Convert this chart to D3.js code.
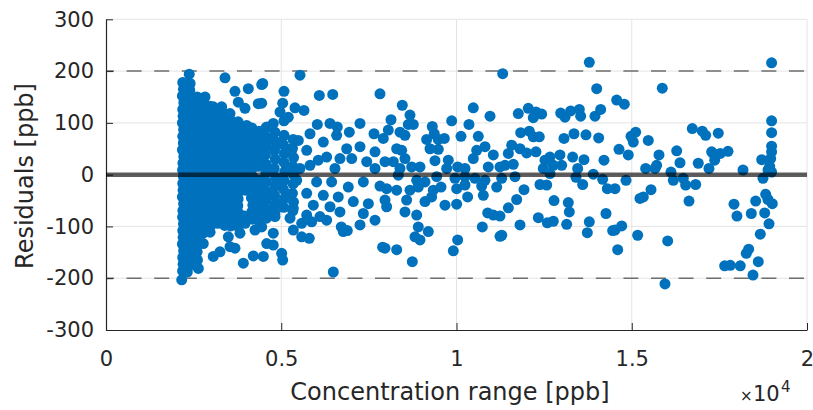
<!DOCTYPE html>
<html>
<head>
<meta charset="utf-8">
<script src="https://cdn.jsdelivr.net/npm/d3@7"></script>
<style>
  body { margin: 0; background: #fff; }
  text { font-family: "DejaVu Sans", sans-serif; fill: #262626; }
</style>
</head>
<body>
<svg id="chart" width="813" height="410"></svg>
<script>
// residuals [ppb] against concentration [ppb]
var conc2k = [
  [2190,178],[2210,165],[2180,152],[2220,139],[2190,126],[2200,113],[2180,100],[2215,87],[2190,74],[2205,61],
  [2180,48],[2220,35],[2195,22],[2185,9],[2210,-4],[2190,-17],[2200,-30],[2180,-43],[2215,-56],[2195,-69],
  [2185,-82],[2210,-95],[2190,-108],[2200,-121],[2180,-134],[2215,-147],[2190,-160],[2200,-173],[2185,-186],[2160,-203],
  [2375,194],[2400,176],[2390,163],[2410,150],[2380,137],[2420,124],[2395,111],[2405,98],[2380,85],[2415,72],
  [2390,59],[2400,46],[2385,33],[2420,20],[2395,7],[2380,-6],[2410,-19],[2390,-32],[2400,-45],[2420,-58],
  [2385,-71],[2400,-84],[2410,-97],[2380,-110],[2400,-123],[2420,-136],[2390,-149],[2300,-152],[2400,-162],[2380,-175],[2320,-188],
  [2600,150],[2590,137],[2620,124],[2580,111],[2610,98],[2600,85],[2630,72],[2590,59],[2610,46],[2580,33],
  [2620,20],[2600,7],[2590,-6],[2630,-19],[2600,-32],[2580,-45],[2610,-58],[2600,-71],[2620,-84],[2590,-97],
  [2610,-110],[2580,-123],[2490,-126],[2620,-136],[2600,-149],[2445,-158],[2610,-165],[2634,-181],
  [2825,150],[2770,143],[2780,130],[2760,116],[2790,103],[2770,89],[2760,76],[2790,62],[2770,49],[2780,35],
  [2760,22],[2790,8],[2770,-5],[2780,-19],[2760,-32],[2790,-46],[2770,-59],[2780,-73],[2760,-86],[2790,-100],
  [2770,-113],[2776,-133],
  [2970,132],[2960,118],[2990,105],[2970,91],[2950,78],[2980,64],[2960,51],[2990,37],[2970,24],[2950,10],
  [2980,-3],[2960,-17],[2990,-30],[2970,-44],[2950,-57],[2980,-71],[2960,-84],[2990,-98],[2970,-111]
];

var conc3k = [
  [3061,131],[3170,122],[3150,108],[3190,95],[3160,81],[3180,68],[3150,54],[3190,41],[3170,27],[3150,14],
  [3180,0],[3160,-13],[3190,-27],[3170,-40],[3150,-54],[3180,-67],[3160,-81],[3190,-94],
  [3300,131],[3370,118],[3350,104],[3390,91],[3360,77],[3380,64],[3350,50],[3390,37],[3370,23],[3350,10],
  [3380,-4],[3360,-17],[3390,-31],[3370,-44],[3350,-58],[3380,-71],[3360,-85],[3390,-98],
  [3538,118],[3570,104],[3550,91],[3590,77],[3560,64],[3580,50],[3550,37],[3590,23],[3570,10],[3550,-4],
  [3580,-17],[3560,-31],[3590,-44],[3570,-58],[3550,-71],[3580,-85],[3560,-99],
  [3775,140],[3770,102],[3790,88],[3760,75],[3780,61],[3750,48],[3790,34],[3770,21],[3760,7],[3780,-6],
  [3750,-20],[3790,-33],[3770,-47],[3760,-60],[3780,-74],[3750,-87],[3770,-100],
  [3395,187],[3680,161],[3061,-158],[3252,-149],[3538,-139],[3680,-142],[3490,-120],[3823,-113]
];

var conc4k = [
  [3966,128],[3960,92],[3980,78],[3950,65],[3990,51],[3960,38],[3970,24],[3950,11],[3990,-3],[3960,-16],
  [3980,-30],[3950,-80],[3970,-94],
  [4165,90],[4180,76],[4150,63],[4190,49],[4160,36],[4170,22],[4150,9],[4190,-5],[4160,-18],[4180,-32],
  [4150,-45],[4190,-59],[4160,-72],[4180,-86],
  [4345,137],[4370,84],[4350,70],[4380,57],[4360,43],[4390,30],[4350,16],[4370,-25],[4390,-38],[4350,-52],
  [4380,-65],[4360,-79],[4390,-92],
  [4060,166],[4442,174],[4014,95],[3918,-171],[4203,-157],[4251,-107],
  [4565,90],[4560,72],[4580,55],[4550,38],[4570,20],[4560,3],[4580,-14],[4550,-32],[4570,-49],[4560,-66],[4580,-84],
  [4820,82],[4840,64],[4810,47],[4830,30],[4800,12],[4840,-5],[4820,-22],[4810,-40],[4830,-57],[4820,-74],
  [5080,76],[5060,58],[5090,41],[5070,24],[5100,6],[5080,-11],[5060,-28],[5090,-46],[5070,-63],
  [5340,68],[5320,51],[5350,33],[5330,16],[5360,-1],[5340,-18],[5320,-36],[5350,-53],[5330,-70]
];

var conc5to8k = [
  [5535,192],[4471,176],[5078,161],[6086,153],[6468,155],[7817,156],[4442,138],[5041,138],[5392,129],[5649,124],
  [4964,121],[5201,111],[5078,104],[6028,97],[6391,99],[6599,92],[7247,99],[6942,82],[7646,79],[7911,70],
  [6580,76],[5820,79],[6200,63],[4585,92],[4773,99],[4394,76],[4679,70],[5487,66],[4964,60],[5298,47],
  [5726,47],[6867,50],[7247,54],[7675,44],[4488,41],[6295,34],[6675,31],[6057,28],[7010,31],[7438,25],
  [5155,16],[5535,12],[5820,18],[6533,12],[7675,12],[4679,9],[4394,-11],[4964,-20],[5441,-11],[6009,-14],
  [6437,-14],[6913,-24],[7342,-14],[7817,-22],[4585,-33],[5250,-40],[5726,-36],[6200,-40],[6627,-43],[7056,-52],
  [7485,-56],[4870,-56],[5915,-59],[6391,-62],[5344,-65],[4679,-68],[4822,-81],[5250,-84],[5726,-78],[6105,-81],
  [6675,-72],[7342,-75],[7675,-88],[5583,-94],[5868,-91],[6295,-88],[6713,-101],[7247,-97],[4442,-101],[4773,-113],
  [5344,-107],[5583,-120],[5800,-123],[6770,-110],[6885,-108],[4585,-133],[4773,-136],[4488,-158],[5012,-152],[5041,-165],
  [7892,-140],[6485,-188]
];

var conc8to11k = [
  [8453,134],[10479,129],[10956,113],[8673,115],[8131,106],[8625,97],[8767,97],[9862,104],[10356,97],[9309,93],
  [8054,86],[8388,82],[8530,76],[9366,79],[10128,74],[10622,74],[9148,68],[9652,70],[9481,68],[10813,54],
  [8293,50],[8436,47],[9244,50],[9481,49],[11050,38],[10576,47],[10479,31],[7960,25],[8197,25],[8530,31],
  [9386,27],[9766,28],[10033,15],[10242,12],[10907,15],[11241,15],[8388,12],[8721,15],[8958,15],[9720,12],
  [8339,-1],[8864,-11],[9434,-4],[9101,-14],[9957,-7],[10242,-4],[10528,-7],[10813,-11],[8007,-27],[8293,-30],
  [8673,-30],[8910,-24],[9338,-30],[9558,-24],[10005,-27],[10242,-20],[10718,-22],[11147,-24],[7960,-49],[8577,-49],
  [9101,-52],[9291,-43],[9672,-59],[10005,-57],[10317,-43],[10765,-40],[8007,-62],[8530,-72],[8864,-78],[10890,-74],
  [11050,-78],[11241,-80],[8910,-101],[9196,-110],[8816,-120],[8958,-126],[10736,-101],[11241,-119],[10033,-126],[9909,-147],
  [8293,-145],[7960,-142],[8739,-168]
];

var conc11to15k = [
  [13789,217],[11318,195],[14000,166],[14113,126],[13951,113],[11763,118],[12048,128],[12191,110],[12268,121],[12430,117],
  [12972,119],[13095,111],[13257,123],[13504,126],[13542,113],[11831,81],[12077,84],[12191,73],[12362,73],[13067,70],
  [13352,79],[13694,77],[14056,71],[11575,57],[11480,41],[11812,50],[12002,42],[12268,44],[11384,18],[11621,20],
  [12525,28],[12667,34],[12952,38],[12762,18],[13001,18],[12667,2],[12476,12],[13314,34],[13637,29],[14208,28],
  [13457,12],[13409,-5],[13903,1],[14170,-9],[13599,-19],[14303,-27],[11290,-7],[11669,-4],[11926,-29],[12382,-19],
  [12573,-20],[11717,-48],[11480,-64],[12782,-50],[13190,-54],[13219,-72],[14265,-75],[12334,-83],[11812,-97],[12591,-93],
  [12762,-90],[13143,-96],[13789,-91],[13732,-112],[14456,-108],[11290,-117]
];

var conc15to19k = [
  [15871,167],[14570,144],[14788,136],[16727,89],[17012,84],[17109,76],[15112,82],[14979,74],[15044,63],[15472,66],
  [14636,49],[14901,38],[16282,46],[15777,38],[16376,23],[16898,22],[17280,44],[17203,12],[15397,12],[15663,12],
  [15710,18],[16119,5],[16186,-11],[16471,-7],[16538,-20],[16823,-19],[14836,-11],[14522,-27],[15549,-29],[15330,-43],
  [15235,-46],[16633,-51],[14713,-99],[14522,-107],[15169,-117],[16025,-128],[14599,-145],[15948,-211],
  [18990,216],[18990,104],[18990,81],[18990,55],[18990,44],[18963,31],[18707,29],[18935,16],[18990,5],[18887,9],
  [18744,-7],[18174,9],[17469,80],[17325,41],[17526,41],[17746,45],[17366,28],[18821,-38],[18887,-48],[19010,-56],
  [18536,-51],[17917,-57],[18002,-80],[18411,-75],[18793,-74],[18916,-95],[18667,-115],[18336,-144],[18268,-152],[18610,-168],
  [18459,-194],[17651,-176],[17811,-175],[18096,-176]
];

var xTicks = [0, 5000, 10000, 15000, 20000];
var xTickLabels = ['0', '0.5', '1', '1.5', '2'];
var yTicks = [-300, -200, -100, 0, 100, 200, 300];
var limits = [-200, 200];

var points = conc2k.concat(conc3k, conc4k, conc5to8k, conc8to11k, conc11to15k, conc15to19k);

var svg = d3.select('#chart');

var x = d3.scaleLinear()
  .domain([0, 20000])
  .range([106, 807]);

var y = d3.scaleLinear()
  .domain([-300, 300])
  .range([330, 19.3]);

// grid
var grid = svg.append('g').attr('class', 'grid');
grid.selectAll('.gx')
  .data(xTicks.slice(1))
  .enter().append('line')
    .attr('x1', function(d) { return x(d); })
    .attr('x2', function(d) { return x(d); })
    .attr('y1', y(-300))
    .attr('y2', y(300))
    .attr('stroke', '#e4e4e4')
    .attr('stroke-width', 1);
grid.selectAll('.gy')
  .data(yTicks.slice(1))
  .enter().append('line')
    .attr('x1', x(0))
    .attr('x2', x(20000))
    .attr('y1', function(d) { return y(d); })
    .attr('y2', function(d) { return y(d); })
    .attr('stroke', '#e4e4e4')
    .attr('stroke-width', 1);

// +-200 ppb limits
svg.append('g')
  .selectAll('line')
  .data(limits)
  .enter().append('line')
    .attr('x1', x(0))
    .attr('x2', x(20000))
    .attr('y1', function(d) { return y(d); })
    .attr('y2', function(d) { return y(d); })
    .attr('stroke', '#6e6e6e')
    .attr('stroke-width', 1.5)
    .attr('stroke-dasharray', '15,12.6')
    .attr('stroke-dashoffset', 7);

// axes
var axisX = d3.axisBottom(x)
  .tickValues(xTicks)
  .tickFormat(function(d, i) { return xTickLabels[i]; })
  .tickSizeInner(-7)
  .tickSizeOuter(0)
  .tickPadding(21);

var axisY = d3.axisLeft(y)
  .tickValues(yTicks)
  .tickFormat(d3.format('d'))
  .tickSizeInner(-7)
  .tickSizeOuter(0)
  .tickPadding(12);

var gx = svg.append('g')
  .attr('transform', 'translate(0,' + y(-300) + ')')
  .call(axisX);
var gy = svg.append('g')
  .attr('transform', 'translate(' + x(0) + ',0)')
  .call(axisY);

[gx, gy].forEach(function(g) {
  g.select('.domain').attr('stroke', '#262626').attr('stroke-width', 1.2);
  g.selectAll('.tick line').attr('stroke', '#262626');
  g.selectAll('.tick text')
    .attr('font-family', '"DejaVu Sans", sans-serif')
    .attr('font-size', 21)
    .attr('fill', '#262626');
});
gy.selectAll('.tick text').text(function(d) { return d < 0 ? '-' + Math.abs(d) : d; });

// residual points
svg.append('g')
  .selectAll('circle')
  .data(points)
  .enter().append('circle')
    .attr('cx', function(d) { return x(d[0]); })
    .attr('cy', function(d) { return y(d[1]); })
    .attr('r', 5.5)
    .attr('fill', '#0072BD');

// zero line on top
svg.append('line')
  .attr('x1', x(0))
  .attr('x2', x(20000))
  .attr('y1', y(0))
  .attr('y2', y(0))
  .attr('stroke', '#000')
  .attr('stroke-opacity', 0.63)
  .attr('stroke-width', 4.5);

// labels
svg.append('text')
  .attr('x', 450)
  .attr('y', 400)
  .attr('text-anchor', 'middle')
  .attr('font-size', 24)
  .text('Concentration range [ppb]');

svg.append('text')
  .attr('transform', 'translate(33,176) rotate(-90)')
  .attr('text-anchor', 'middle')
  .attr('font-size', 24)
  .text('Residuals [ppb]');

var expo = svg.append('text').attr('y', 401);
expo.append('tspan').attr('x', 740).attr('font-size', 15).text('\u00d7');
expo.append('tspan').attr('x', 753).attr('font-size', 21).text('10');
expo.append('tspan').attr('x', 781).attr('y', 391.5).attr('font-size', 15).text('4');
</script>
</body>
</html>
